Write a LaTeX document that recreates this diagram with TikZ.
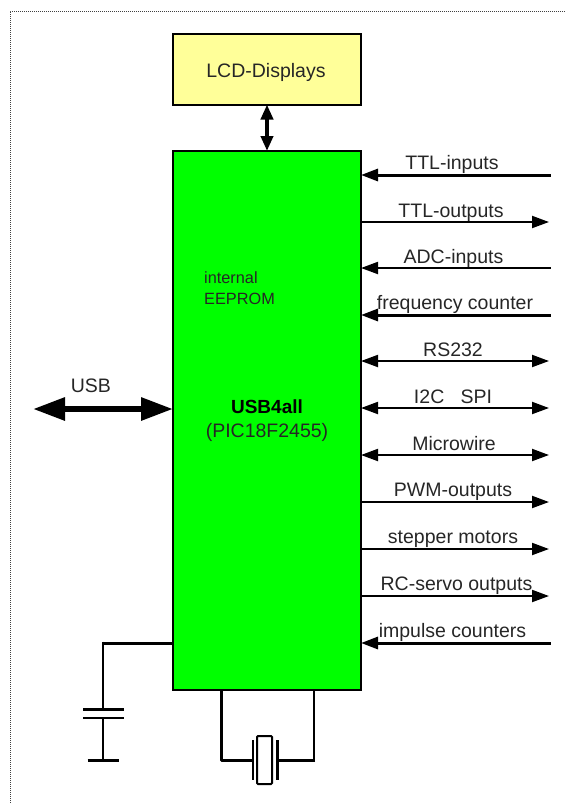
\documentclass[tikz,border=0pt]{standalone}
\usepackage{fontspec}
\setmainfont{Liberation Sans}
\usetikzlibrary{arrows.meta}
\definecolor{lcdyellow}{HTML}{FFFF99}
\definecolor{chipgreen}{HTML}{00FF00}
\tikzset{
  x=1pt,y=-1pt,
  block/.style={draw=black,line width=2pt,outer sep=0pt,minimum width=188pt,inner sep=0pt,anchor=north west},
  lbl/.style={inner sep=0pt,anchor=base,font=\fontsize{19.5}{22}\selectfont,text=black!85},
  small/.style={inner sep=0pt,anchor=base west,font=\fontsize{16.3}{18}\selectfont,text=black!85},
  headin/.style={{Triangle[length=17pt,width=12pt]}-},
  headout/.style={-{Triangle[length=17pt,width=12pt]}},
  headboth/.style={{Triangle[length=17pt,width=12pt]}-{Triangle[length=17pt,width=12pt]}},
  sig/.style={line width=2pt},
  sigb/.style={line width=3pt},
}
\begin{document}
\begin{tikzpicture}
\useasboundingbox (0,0) rectangle (565,804);
\draw[black!75,line width=1pt,dash pattern=on 1pt off 1pt] (565,11) -- (10,11) -- (10,804);

\node[block,fill=lcdyellow,minimum height=70.5pt] (lcd) at (173,34) {};
\node[lbl] (lcdtxt) at (266,77) {LCD-Displays};
\node[block,fill=chipgreen,minimum height=539pt] (chip) at (173,151) {};
\draw[line width=4pt,{Triangle[length=15pt,width=12pt]}-{Triangle[length=15pt,width=12pt]}] (lcd.south -| 267,0) -- (chip.north -| 267,0);

\node[small] (ee1) at (204,283) {internal};
\node[small] (ee2) at (204,304) {EEPROM};
\node[inner sep=0pt,anchor=base,font=\fontsize{19}{22}\selectfont\bfseries] (name) at (267,413) {USB4all};
\node[lbl] (pic) at (267,437) {(PIC18F2455)};

% USB
\coordinate (usbend) at (33,409);
\node[lbl] (usbtxt) at (90.8,392) {USB};
\draw[line width=6pt,{Triangle[length=32pt,width=22pt]}-{Triangle[length=32pt,width=22pt]}] (usbend) -- (usbend -| chip.west);

% Right side signals
\foreach \n/\y/\ex/\st/\hd/\tx/\lx/\ly in {
  a/175/551/sigb/headin/TTL-inputs/452/169,
  b/222/549/sig/headout/TTL-outputs/451/217,
  c/268/551/sig/headin/ADC-inputs/453.5/263,
  d/315/551/sigb/headin/frequency counter/455/309,
  e/361/549/sig/headboth/RS232/453/356,
  f/408/549/sig/headboth/I2C\ \ \ SPI/453/403,
  g/455/549/sig/headboth/Microwire/454/450,
  h/502/549/sig/headout/PWM-outputs/453/496,
  i/549/549/sig/headout/stepper motors/453/543,
  j/596/549/sig/headout/RC-servo outputs/456.5/590,
  k/643/551/sigb/headin/impulse counters/452.5/637}{
  \coordinate (r\n) at (\ex,\y);
  \node[lbl] (t\n) at (\lx,\ly) {\tx};
  \draw[\st,\hd] (chip.east |- r\n) -- (r\n);
}

% Capacitor
\coordinate (capc) at (103.3,643);
\coordinate (capa) at (103.3,709);
\coordinate (capb) at (103.3,718);
\coordinate (gnd) at (103.3,760);
\draw[line width=3pt] (chip.west |- capc) -- (capc);
\draw[line width=2pt] (103.3,641.5) -- (capa);
\draw[line width=2pt] (capb) -- (gnd);
\draw[line width=3pt] (83,709) -- (123.5,709);
\draw[line width=2pt] (83,718) -- (123.5,718);
\draw[line width=3pt] (87.7,760.3) -- (118.7,760.3);

% Crystal
\coordinate (xl) at (221,760);
\coordinate (xr) at (314,760);
\draw[line width=3pt,line join=round] (chip.south -| xl) -- (xl) -- (253,760);
\draw[line width=2pt] (chip.south -| xr) -- (xr);
\draw[line width=3pt] (315,760) -- (277,760);
\draw[line width=2pt] (253,740) -- (253,780);
\draw[line width=3pt] (277,740) -- (277,780);
\node[draw=black,line width=2pt,fill=white,minimum width=15pt,minimum height=48pt,inner sep=0pt,outer sep=0pt,rounded corners=1pt] (xtal) at (264.5,760) {};
\end{tikzpicture}
\end{document}
